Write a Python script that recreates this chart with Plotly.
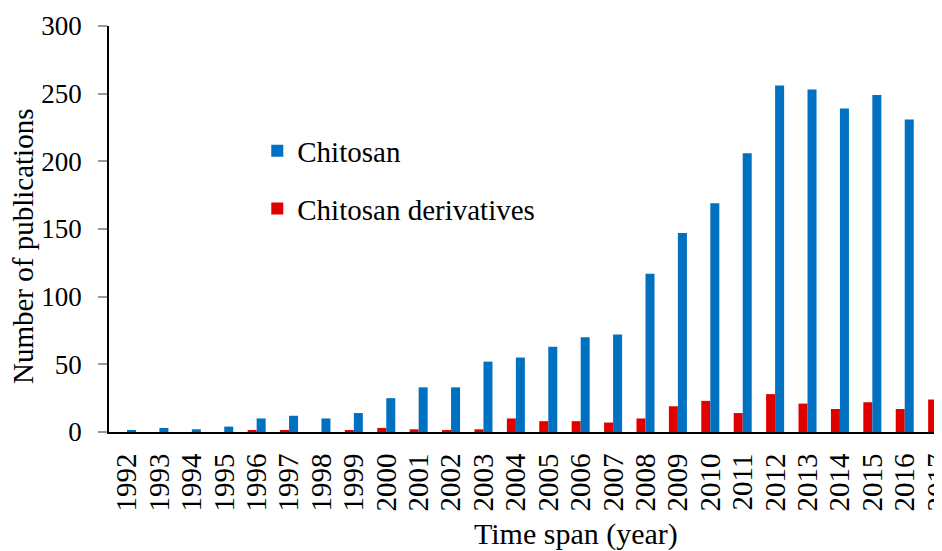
import plotly.graph_objects as go

years = [str(y) for y in range(1992, 2018)]
chitosan = [1, 3, 2, 4, 10, 12, 10, 14, 25, 33, 33, 52, 55, 63, 70, 72, 117, 147, 169, 206, 256, 253, 239, 249, 231, 214]
derivatives = [0, 0, 0, 0, 1, 1, 0, 1, 3, 2, 1, 2, 10, 8, 8, 7, 10, 19, 23, 14, 28, 21, 17, 22, 17, 24]
y_ticks = [0, 50, 100, 150, 200, 250, 300]

FONT = "Liberation Serif, Times New Roman, serif"

# page body has an 8px margin: figure occupies screen (8..942, 8..551)
W, H = 934, 543
ML, MR, MT, MB = 101, 0, 18, 119

fig = go.Figure()
fig.add_trace(go.Bar(x=years, y=derivatives, name="Chitosan derivatives",
                     marker=dict(color="#E00000", line=dict(width=0)),
                     legendgroup="b", legendrank=2))
fig.add_trace(go.Bar(x=years, y=chitosan, name="Chitosan",
                     marker=dict(color="#0070C0", line=dict(width=0)),
                     legendgroup="a", legendrank=1))

fig.update_layout(
    width=W, height=H,
    margin=dict(l=ML, r=MR, t=MT, b=MB, autoexpand=False),
    paper_bgcolor="white", plot_bgcolor="white",
    barmode="group", bargap=0.444, bargroupgap=0,
    font=dict(family=FONT, size=27, color="black"),
    showlegend=True,
    legend=dict(x=0.178, y=0.755, xanchor="left", yanchor="top",
                traceorder="grouped", tracegroupgap=17,
                font=dict(size=29, family=FONT), bgcolor="rgba(0,0,0,0)"),
    xaxis=dict(type="category", range=[-0.556, 25.15], showline=True,
               linecolor="black", linewidth=2, ticks="", tickangle=-90,
               tickmode="array", tickvals=years, ticktext=years,
               tickfont=dict(size=29), ticklabelstandoff=8,
               showgrid=False, zeroline=False),
    yaxis=dict(range=[0, 300], tickvals=y_ticks, showline=True,
               linecolor="black", linewidth=1.5, ticks="outside", ticklen=9,
               tickcolor="#999999", tickwidth=1.5, ticklabelstandoff=11,
               tickfont=dict(size=27), showgrid=False, zeroline=False),
    annotations=[
        dict(text="Number of publications", textangle=-90, x=15, y=239,
             xref="paper", yref="paper", showarrow=False,
             font=dict(size=29, family=FONT)),
        dict(text="Time span (year)", x=568, y=526, xref="paper", yref="paper",
             showarrow=False, font=dict(size=30, family=FONT)),
    ],
)

# convert annotation pixel positions (figure coords) to paper coordinates
pw, ph = W - ML - MR, H - MT - MB
for a in fig.layout.annotations:
    px, py = a.x, a.y
    a.x = (px - ML) / pw
    a.y = 1 - (py - MT) / ph
    a.xanchor = "center"
    a.yanchor = "middle"

fig.write_html("out.html")
